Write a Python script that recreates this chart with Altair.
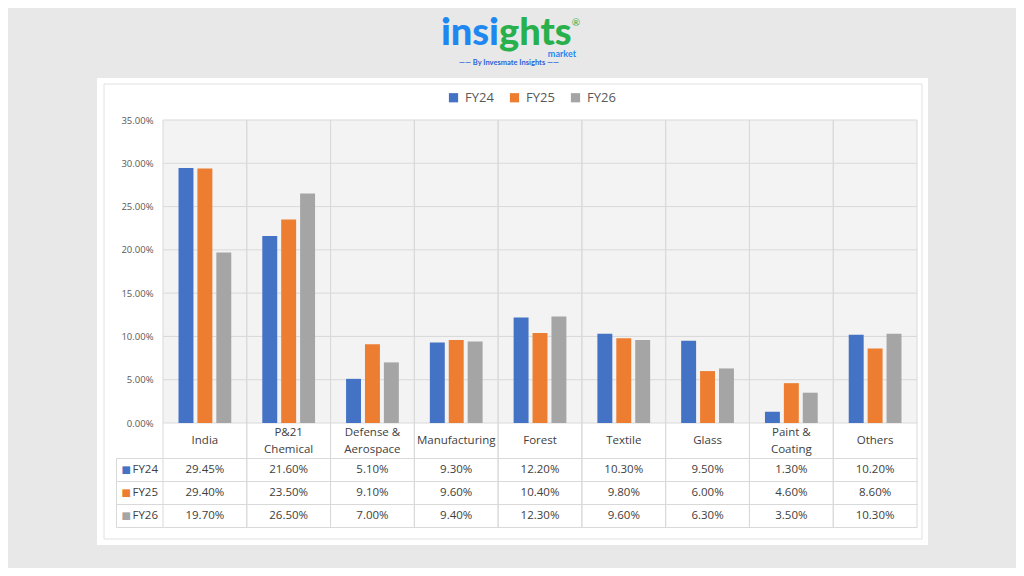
import altair as alt
import pandas as pd

# ---------------- data ----------------
categories = ["India", "P&21\nChemical", "Defense &\nAerospace", "Manufacturing",
              "Forest", "Textile", "Glass", "Paint &\nCoating", "Others"]
series = ["FY24", "FY25", "FY26"]
fy24 = [0.2945, 0.2160, 0.0510, 0.0930, 0.1220, 0.1030, 0.0950, 0.0130, 0.1020]
fy25 = [0.2940, 0.2350, 0.0910, 0.0960, 0.1040, 0.0980, 0.0600, 0.0460, 0.0860]
fy26 = [0.1970, 0.2650, 0.0700, 0.0940, 0.1230, 0.0960, 0.0630, 0.0350, 0.1030]
y_ticks = [0.0, 0.05, 0.10, 0.15, 0.20, 0.25, 0.30, 0.35]
colors = ["#4472C4", "#ED7D31", "#A5A5A5"]

rows = []
for s, vals in zip(series, [fy24, fy25, fy26]):
    for c, v in zip(categories, vals):
        rows.append({"category": c, "series": s, "value": v})
df = pd.DataFrame(rows)
ticks_df = pd.DataFrame({"tick": y_ticks})
cat_df = pd.DataFrame({"category": categories})
one = pd.DataFrame({"k": [0]})

FONT = "Open Sans"
GRID = "#d9d9d9"
TXT = "#404040"

# ---------------- scales / axes ----------------
xscale = alt.Scale(domain=categories, paddingInner=0, paddingOuter=0)
xaxis = alt.Axis(title=None, orient="bottom", offset=-104, labelAngle=0,
                 labelExpr="split(datum.value, '\\n')",
                 labelFont=FONT, labelFontSize=11.5, labelColor=TXT,
                 labelBaseline={"condition": {"test": "indexof(datum.value, '\\n') >= 0",
                                              "value": "line-bottom"}, "value": "middle"},
                 labelPadding=17, labelLineHeight=17, ticks=False, domain=False,
                 grid=False, zindex=1)
yscale = alt.Scale(domain=[0, 0.35], range=[303, 0], nice=False)
yaxis = alt.Axis(title=None, values=y_ticks, format=".2%", labelFont=FONT,
                 labelFontSize=9.5, labelColor="#595959", ticks=False,
                 domain=False, grid=False, labelPadding=10, zindex=1)
rowscale = alt.Scale(domain=series, range=[338, 407], paddingInner=0, paddingOuter=0)

# ---------------- panel ----------------
panel = alt.Chart(one).mark_rect(fill="white").encode(
    x=alt.value(-66), x2=alt.value(765), y=alt.value(-42), y2=alt.value(425))
frame = alt.Chart(one).mark_rect(filled=False, stroke="#e0e0e0", strokeWidth=1).encode(
    x=alt.value(-59), x2=alt.value(759), y=alt.value(-36), y2=alt.value(419))

# ---------------- bars ----------------
plotfill = alt.Chart(one).mark_rect(color="#f3f3f3").encode(
    y=alt.Y(datum=0, scale=yscale, axis=None), y2=alt.Y2(datum=0.35))
hgrid = alt.Chart(ticks_df).mark_rule(color=GRID, strokeWidth=1).encode(
    y=alt.Y("tick:Q", scale=yscale, axis=None))
vgrid0 = alt.Chart(cat_df).mark_rule(color=GRID, strokeWidth=1).encode(
    x=alt.X("category:N", sort=categories, scale=xscale, axis=xaxis, bandPosition=0))
vgrid1 = alt.Chart(cat_df).mark_rule(color=GRID, strokeWidth=1).encode(
    x=alt.X("category:N", sort=categories, scale=xscale, axis=xaxis, bandPosition=1))
bars = alt.Chart(df).mark_bar().encode(
    x=alt.X("category:N", sort=categories, scale=xscale, axis=xaxis),
    xOffset=alt.XOffset("series:N", sort=series,
                        scale=alt.Scale(domain=series, paddingInner=0.21, paddingOuter=0.82)),
    y=alt.Y("value:Q", scale=yscale, axis=yaxis),
    color=alt.Color("series:N", sort=series,
                    scale=alt.Scale(domain=series, range=colors),
                    legend=alt.Legend(title=None, orient="none", legendX=284, legendY=-29,
                                      direction="horizontal", symbolType="square",
                                      symbolSize=85, symbolStrokeWidth=0,
                                      labelFont=FONT, labelFontSize=13,
                                      labelColor="#595959", labelOffset=5,
                                      columnPadding=14, padding=0)),
)

# ---------------- data table ----------------
table = alt.Chart(df).mark_text(font=FONT, fontSize=11.5, color=TXT, baseline="middle").encode(
    x=alt.X("category:N", sort=categories, scale=xscale, axis=xaxis),
    y=alt.Y("series:N", sort=series, scale=rowscale,
            axis=alt.Axis(title=None, orient="left", domain=False, ticks=True,
                          tickBand="extent", tickSize=47, tickColor=GRID,
                          grid=True, gridColor=GRID, labelAlign="left",
                          labelPadding=-16, labelFont=FONT, labelFontSize=11.5,
                          labelColor=TXT, labelBaseline="middle", zindex=1)),
    text=alt.Text("value:Q", format=".2%"),
)
squares = alt.Chart(df).mark_point(opacity=0).encode(
    y=alt.Y("series:N", sort=series, scale=rowscale,
            axis=alt.Axis(title=None, orient="left", offset=47, domain=True,
                          domainColor=GRID, ticks=False, tickSize=0, grid=False,
                          labelExpr="'\u25a0'", labelAlign="left", labelPadding=-5,
                          labelFont="DejaVu Sans", labelFontSize=10,
                          labelBaseline="middle",
                          labelColor={"condition": [
                              {"test": "datum.value === 'FY24'", "value": colors[0]},
                              {"test": "datum.value === 'FY25'", "value": colors[1]}],
                              "value": colors[2]},
                          zindex=1)),
)

# ---------------- logo ----------------
logo1 = alt.Chart(one).mark_text(text="insi", font="Lato", fontWeight=900, fontSize=38,
                                 color="#1E88F0", align="right", baseline="alphabetic").encode(
    x=alt.value(336), y=alt.value(-75))
logo2 = alt.Chart(one).mark_text(text="ghts", font="Lato", fontWeight=900, fontSize=38,
                                 color="#27B04B", align="left", baseline="alphabetic").encode(
    x=alt.value(336), y=alt.value(-75))
logo3 = alt.Chart(one).mark_text(text="market", font="Lato", fontWeight="bold", fontSize=9,
                                 color="#1E88F0", align="right", baseline="alphabetic").encode(
    x=alt.value(413), y=alt.value(-63))
logo4 = alt.Chart(one).mark_text(text="\u2014\u2014  By Invesmate Insights  \u2014\u2014",
                                 font="Lato", fontWeight="bold", fontSize=7.5,
                                 color="#2A62D8", align="center", baseline="alphabetic").encode(
    x=alt.value(346), y=alt.value(-55))
logo5 = alt.Chart(one).mark_text(text="\u00ae", font="Lato", fontSize=10,
                                 color="#27B04B", align="center", baseline="middle").encode(
    x=alt.value(413), y=alt.value(-97))

chart = alt.layer(
    panel, frame, plotfill, hgrid, vgrid0, vgrid1, bars, table, squares,
    logo1, logo2, logo3, logo4, logo5
).resolve_scale(y="independent").resolve_axis(y="independent").properties(
    width=754, height=407,
    autosize=alt.AutoSizeParams(type="none"),
    padding={"left": 155, "top": 112, "right": 99, "bottom": 41},
    background="#e8e8e8",
).configure_view(stroke=None)

chart.save("out.html", embed_options={"renderer": "svg", "actions": False})
